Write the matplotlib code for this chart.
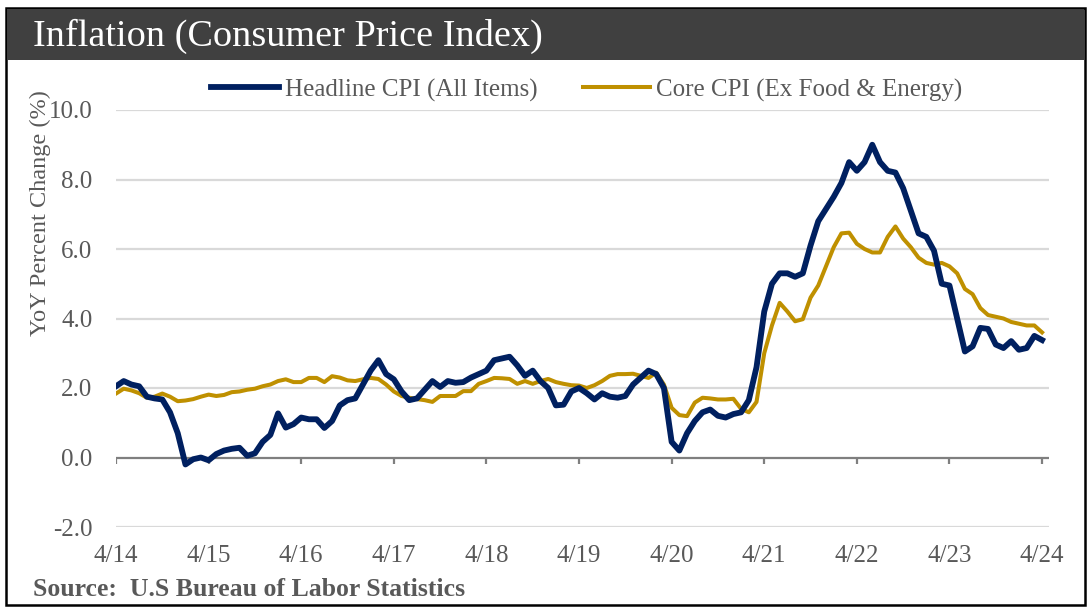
import matplotlib
matplotlib.use("Agg")
import matplotlib.pyplot as plt
from matplotlib.patches import Rectangle

plt.rcParams["font.family"] = ["Liberation Serif", "DejaVu Serif"]

# Monthly YoY % change, Apr 2014 .. Apr 2024
headline = [
    2.05, 2.2, 2.1, 2.05, 1.75, 1.7, 1.67, 1.3, 0.7,                       # 2014
    -0.2, -0.05, 0.0, -0.08, 0.1, 0.2, 0.25, 0.28, 0.05, 0.12, 0.45, 0.65,  # 2015
    1.27, 0.86, 0.96, 1.15, 1.1, 1.1, 0.85, 1.05, 1.5, 1.65, 1.7, 2.1,      # 2016
    2.5, 2.8, 2.4, 2.25, 1.9, 1.65, 1.7, 1.95, 2.2, 2.03, 2.2, 2.15,        # 2017
    2.17, 2.3, 2.4, 2.5, 2.8, 2.85, 2.9, 2.65, 2.35, 2.5, 2.2, 2.0,         # 2018
    1.5, 1.52, 1.9, 2.0, 1.85, 1.67, 1.85, 1.75, 1.72, 1.77, 2.1, 2.3,      # 2019
    2.5, 2.4, 2.0, 0.45, 0.2, 0.7, 1.05, 1.3, 1.38, 1.2, 1.15, 1.25,        # 2020
    1.3, 1.65, 2.6, 4.2, 5.0, 5.3, 5.3, 5.2, 5.3, 6.1, 6.8, 7.15,           # 2021
    7.5, 7.9, 8.5, 8.25, 8.5, 9.0, 8.5, 8.25, 8.2, 7.75, 7.1, 6.45,         # 2022
    6.35, 5.95, 5.0, 4.95, 4.0, 3.05, 3.2, 3.73, 3.7, 3.25, 3.15, 3.35,     # 2023
    3.1, 3.15, 3.5, 3.38,                                                # 2024
]
core = [
    1.84, 1.98, 1.93, 1.85, 1.72, 1.75, 1.84, 1.75, 1.62,
    1.64, 1.68, 1.75, 1.81, 1.77, 1.80, 1.88, 1.90, 1.95, 1.98, 2.05, 2.10,
    2.20, 2.25, 2.17, 2.17, 2.29, 2.29, 2.17, 2.34, 2.30, 2.22, 2.20, 2.25,
    2.29, 2.26, 2.10, 1.90, 1.77, 1.72, 1.68, 1.65, 1.60, 1.77, 1.77, 1.77,
    1.91, 1.91, 2.12, 2.20, 2.29, 2.28, 2.26, 2.12, 2.20, 2.12, 2.20, 2.26,
    2.17, 2.12, 2.08, 2.07, 2.00, 2.08, 2.20, 2.35, 2.40, 2.40, 2.41, 2.35,
    2.29, 2.44, 2.10, 1.43, 1.22, 1.19, 1.58, 1.72, 1.70, 1.67, 1.67, 1.69,
    1.40, 1.30, 1.60, 3.00, 3.80, 4.45, 4.20, 3.92, 3.98, 4.60, 4.95, 5.50,
    6.05, 6.45, 6.47, 6.15, 6.00, 5.90, 5.90, 6.35, 6.65, 6.30, 6.05, 5.75,
    5.60, 5.55, 5.60, 5.50, 5.30, 4.85, 4.70, 4.30, 4.10, 4.05, 4.00, 3.90,
    3.85, 3.80, 3.80, 3.60,
]
tick_labels = ["4/14", "4/15", "4/16", "4/17", "4/18", "4/19",
               "4/20", "4/21", "4/22", "4/23", "4/24"]
y_ticks = [-2.0, 0.0, 2.0, 4.0, 6.0, 8.0, 10.0]

NAVY = "#002060"
GOLD = "#BF9000"
GREY = "#595959"

W, H = 1089, 614
fig = plt.figure(figsize=(W / 100, H / 100), dpi=100)
fig.patch.set_facecolor("white")

# frame and title bar
fig.patches.append(Rectangle((6 / W, 1 - 605 / H), 1079 / W, 597 / H, transform=fig.transFigure,
                             fill=False, edgecolor="black", lw=1.8, zorder=0))
fig.patches.append(Rectangle((7 / W, 1 - 60 / H), 1077 / W, 51 / H, transform=fig.transFigure,
                             facecolor="#404040", edgecolor="none", zorder=0))
fig.text(33 / W, 1 - 36 / H, "Inflation (Consumer Price Index)", color="white",
         fontsize=27.5, va="center", ha="left")

ax = fig.add_axes([116 / W, 1 - 527 / H, 933 / W, 417 / H])
x = list(range(len(headline)))
ax.plot(x, core, color=GOLD, lw=2.9, solid_joinstyle="round", label="Core CPI (Ex Food & Energy)", zorder=3)
ax.plot(x, headline, color=NAVY, lw=4.2, solid_joinstyle="round", label="Headline CPI (All Items)", zorder=4)

ax.set_xlim(0, 120.9)
ax.set_ylim(-2, 10)
ax.set_yticks(y_ticks, [f"{v:.1f}" for v in y_ticks])
ax.tick_params(axis="y", length=0, pad=17, labelsize=18, labelcolor=GREY)
for v in y_ticks:
    if v != 0:
        ax.axhline(v, color="#d9d9d9", lw=1.6, zorder=1)
ax.axhline(0, color="#7f7f7f", lw=1.6, zorder=2)
tick_pos = list(range(0, 121, 12))
ax.vlines(tick_pos, -0.18, 0, color="#7f7f7f", lw=1.6, zorder=2)
ax.set_xticks(tick_pos, tick_labels)
ax.tick_params(axis="x", length=0, pad=13, labelsize=18, labelcolor=GREY)
for s in ax.spines.values():
    s.set_visible(False)

fig.text(40 / W, 1 - 213 / H, "YoY Percent Change (%)", rotation=90, fontsize=17.5,
         color=GREY, ha="center", va="center")

handles, labels = ax.get_legend_handles_labels()
fig.legend(handles[::-1], labels[::-1], loc="center", bbox_to_anchor=(587 / W, 1 - 90 / H),
           ncol=2, frameon=False, fontsize=18, handlelength=2.7, handletextpad=0.25,
           columnspacing=1.8, labelcolor=GREY)

fig.text(33 / W, 1 - 590 / H, "Source:  U.S Bureau of Labor Statistics", fontsize=18.5,
         fontweight="bold", color=GREY, ha="left", va="center")

fig.savefig("out.png", dpi=100)
